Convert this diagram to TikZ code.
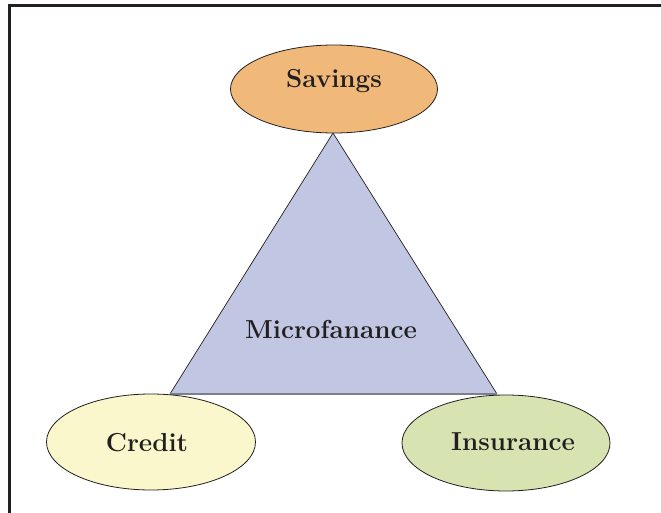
\documentclass[tikz,border=0pt]{standalone}
\usepackage{fontspec}
\usetikzlibrary{shapes.geometric}
\definecolor{ink}{HTML}{231F20}
\definecolor{savefill}{HTML}{F0B97A}
\definecolor{creditfill}{HTML}{FAF7CC}
\definecolor{insurefill}{HTML}{D7E3B1}
\definecolor{trifill}{HTML}{C1C6E2}
\definecolor{triedge}{HTML}{7E7F8C}
\begin{document}
\begin{tikzpicture}[x=1pt,y=-1pt,
  pillar/.style={ellipse, draw=ink, line width=0.8pt, inner sep=0pt},
  lbl/.style={font=\fontsize{26}{30}\selectfont\bfseries, text=ink}]
\useasboundingbox (0,0) rectangle (661,513);
% frame
\draw[ink, line width=3pt] (9.5,513) -- (9.5,6) -- (661,6);
% central triangle
\coordinate (apex) at (333,133);
\coordinate (bl) at (170,394);
\coordinate (br) at (497,394);
\fill[trifill] (apex) -- (bl) -- (br) -- cycle;
\draw[ink, line width=0.7pt] (bl) -- (apex) -- (br);
\draw[triedge, line width=1.5pt] (bl) -- (br);
\node[lbl] (micro) at (331,329) {Microfanance};
% outer ellipses
\node[pillar, fill=savefill, minimum width=207pt, minimum height=88pt] (savings) at (334,89) {};
\node[pillar, fill=creditfill, minimum width=209pt, minimum height=96pt] (credit) at (151,442) {};
\node[pillar, fill=insurefill, minimum width=208pt, minimum height=96pt] (insurance) at (506,443) {};
\node[lbl] at ([yshift=8pt]savings.center) {Savings};
\node[lbl] at ([xshift=-4pt,yshift=-1pt]credit.center) {Credit};
\node[lbl] at ([xshift=7pt,yshift=1pt]insurance.center) {Insurance};
\end{tikzpicture}
\end{document}
